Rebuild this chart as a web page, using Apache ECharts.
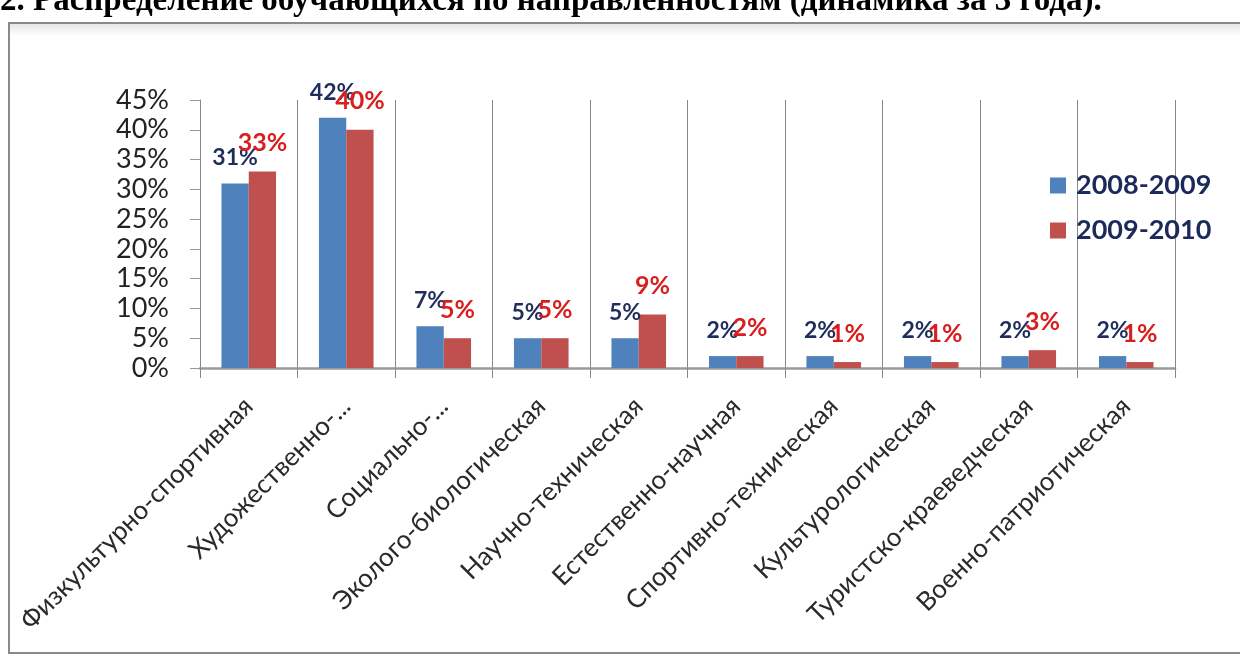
<!DOCTYPE html>
<html>
<head>
<meta charset="utf-8">
<script src="https://cdn.jsdelivr.net/npm/echarts@6/dist/echarts.min.js"></script>
<style>
html,body{margin:0;padding:0;background:#fff;}
#c{width:1240px;height:655px;}
</style>
</head>
<body>
<div id="c"></div>
<script>
const titleText = '2. Распределение обучающихся по направленностям (динамика за 3 года).';
const categories = ['Физкультурно-спортивная','Художественно-...','Социально-...','Эколого-биологическая','Научно-техническая','Естественно-научная','Спортивно-техническая','Культурологическая','Туристско-краеведческая','Военно-патриотическая'];
const seriesNames = ['2008-2009','2009-2010'];
const values2008 = [31,42,7,5,5,2,2,2,2,2];
const values2009 = [33,40,5,5,9,2,1,1,3,1];

const chart = echarts.init(document.getElementById('c'));
const font = 'Lato, "Open Sans", sans-serif';
chart.setOption({
  backgroundColor:'#fff',
  animation:false,
  graphic:[
    {type:'rect', shape:{x:10,y:24,width:1230,height:12},
     style:{fill:new echarts.graphic.LinearGradient(0,0,0,1,[{offset:0,color:'#e8e8e8'},{offset:1,color:'#ffffff'}])}, z:-11},
    {type:'rect', shape:{x:9,y:23,width:1240,height:630}, style:{fill:'none', stroke:'#8a8a8a', lineWidth:2}, z:-10},
    {type:'text', x:0, y:-15, style:{text:titleText, font:'bold 33px "Liberation Serif", "Times New Roman", serif', fill:'#000'}}
  ],
  grid:{left:200, right:65, top:100, bottom:287, containLabel:false},
  legend:{
    orient:'vertical', left:1045, top:167, itemWidth:16, itemHeight:16, itemGap:18,
    icon:'rect',
    textStyle:{fontFamily:font, fontSize:27, fontWeight:'bold', color:'#1b2a5a', padding:[0,0,0,5]},
    data:seriesNames
  },
  xAxis:{
    type:'category', data:categories,
    axisLine:{show:true, lineStyle:{color:'#9a9a9a', width:2.5}},
    axisTick:{show:true, length:10, lineStyle:{color:'#888', width:1}},
    splitLine:{show:true, lineStyle:{color:'#888', width:1}},
    axisLabel:{rotate:45, interval:0, fontFamily:font, fontSize:26, color:'#2a2a2a', margin:34}
  },
  yAxis:{
    type:'value', min:0, max:45, interval:5,
    axisLine:{show:true, lineStyle:{color:'#888', width:1}},
    axisTick:{show:true, length:10, lineStyle:{color:'#999'}},
    splitLine:{show:false},
    axisLabel:{formatter:'{value}%', fontFamily:font, fontSize:27, color:'#222', margin:31}
  },
  series:[
    {name:seriesNames[0], type:'bar', data:values2008, barWidth:'28%', barGap:'0%',
     itemStyle:{color:'#4f81bd'},
     label:{show:true, position:'top', distance:14, formatter:'{c}%', fontFamily:font, fontSize:23, fontWeight:'bold', color:'#1f2d5c'}},
    {name:seriesNames[1], type:'bar', data:values2009, barWidth:'28%', barGap:'0%',
     itemStyle:{color:'#c0504d'},
     label:{show:true, position:'top', distance:16, formatter:'{c}%', fontFamily:font, fontSize:25, fontWeight:'bold', color:'#d91e1e'}}
  ]
});
</script>
</body>
</html>
